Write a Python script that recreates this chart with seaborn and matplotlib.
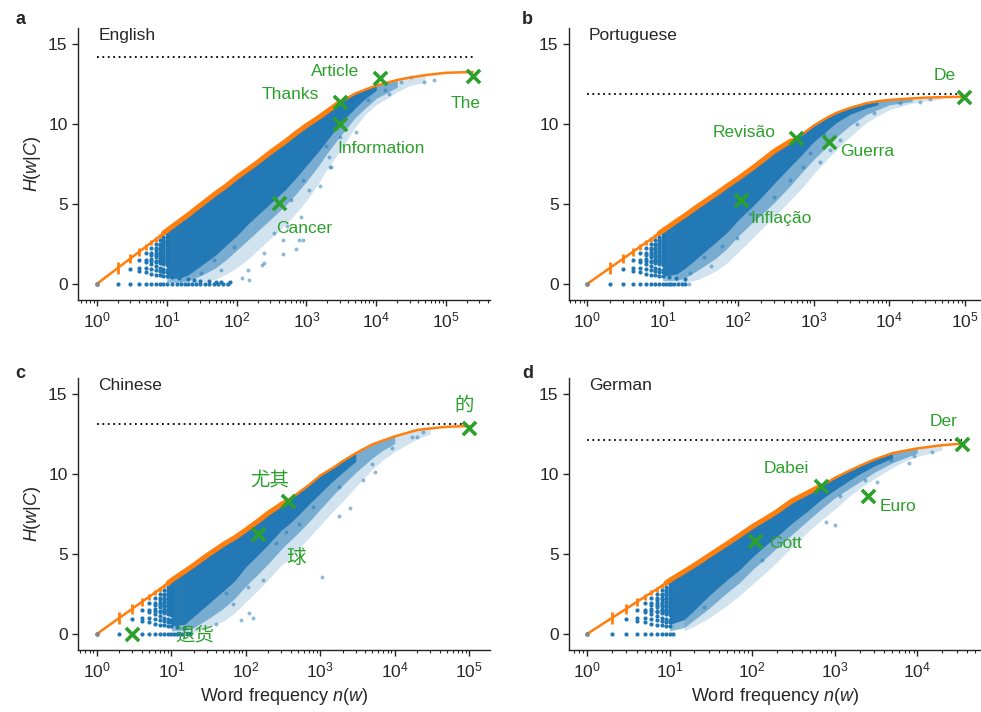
import numpy as np
import matplotlib
matplotlib.use("Agg")
import matplotlib.pyplot as plt
import seaborn as sns

sns.set_style("ticks")
plt.rcParams["font.family"] = ["Liberation Sans", "Noto Sans CJK SC", "DejaVu Sans"]
plt.rcParams["mathtext.fontset"] = "custom"
plt.rcParams["mathtext.rm"] = "Liberation Sans"
plt.rcParams["mathtext.it"] = "Liberation Sans:italic"

BLUE = "#1f77b4"
ORANGE = "#ff7f0e"
GREEN = "#2ca02c"
nan = np.nan

# ---- shared low-frequency lattice (n = 3..10, discrete entropy levels) ----
lat_cols = [3, 4, 5, 6, 7, 8, 9, 10]
lat_levels = [
    [0.92],
    [0.81, 1.0, 1.5],
    [0.72, 0.97, 1.37, 1.52, 1.92],
    [0.65, 0.92, 1.25, 1.46, 1.58, 1.79, 1.92, 2.25],
    [0.59, 0.86, 1.15, 1.38, 1.45, 1.66, 1.84, 1.95, 2.13, 2.24, 2.52],
    [0.54, 0.81, 1.0, 1.3, 1.41, 1.5, 1.56, 1.75, 1.81, 1.91, 2.0, 2.16, 2.25, 2.41, 2.5, 2.75],
    [0.5, 0.76, 0.92, 1.22, 1.35, 1.45, 1.53, 1.66, 1.75, 1.84, 1.98, 2.06, 2.2, 2.28, 2.42, 2.53, 2.64, 2.73, 2.95],
    [0.47, 0.72, 0.88, 1.16, 1.3, 1.36, 1.49, 1.57, 1.69, 1.76, 1.85, 1.96, 2.05, 2.16, 2.25, 2.35, 2.45, 2.55, 2.65, 2.75, 2.85, 2.95, 3.1],
]
low_row_n = [12, 15, 20, 25, 30, 40, 50, 60, 80]
low_row_h = [0.41, 0.35, 0.29, 0.24, 0.21, 0.17, 0.14, 0.12, 0.1]

err_n = [2, 3, 4, 5, 6, 7, 8, 9, 10]
err_h = [1.0, 1.58, 2.0, 2.32, 2.58, 2.8, 3.0, 3.17, 3.32]
err_e = [0.37, 0.3, 0.25, 0.2, 0.17, 0.15, 0.12, 0.1, 0.08]

# ---- English ----
en_n = [1, 2, 3, 4, 5, 6, 7, 8, 9, 10, 15, 20, 30, 50, 70, 100, 150, 200, 300, 500, 700, 1000,
        1500, 2000, 3000, 5000, 7000, 10000, 20000, 30000, 50000, 100000, 240000]
en_h = [0, 1.0, 1.58, 2.0, 2.32, 2.58, 2.8, 3.0, 3.17, 3.33, 3.9, 4.3, 4.9, 5.65, 6.1, 6.65, 7.2, 7.6,
        8.2, 8.9, 9.4, 9.9, 10.4, 10.8, 11.35, 11.9, 12.15, 12.4, 12.75, 12.9, 13.05, 13.2, 13.25]
en_core = [nan] * 9 + [0.4, 0.35, 0.55, 1.1, 1.8, 2.4, 3.0, 3.8, 4.3, 5.0, 5.9, 6.6, 7.4,
                       8.3, 9.0, 10.0, 11.0, 11.6, 12.1, nan, nan, nan, nan, nan]
en_mid = [nan] * 9 + [0.1, 0.1, 0.2, 0.5, 1.0, 1.5, 2.1, 2.8, 3.3, 4.0, 4.9, 5.6, 6.4,
                      7.4, 8.2, 9.2, 10.4, 11.0, 11.6, 12.3, nan, nan, nan, nan]
en_fr = [nan] * 10 + [0.05, 0.05, 0.1, 0.3, 0.6, 1.0, 1.6, 2.1, 2.8, 3.7, 4.4, 5.2,
                      6.3, 7.2, 8.3, 9.8, 10.6, 11.2, 12.0, 12.4, 12.6, nan, nan]
en_dot_n = [457, 234, 151, 794, 74, 2090, 2190, 4370, 22400, 49000, 67600, 13200, 1580,
            830, 600, 178, 347, 91, 48, 31, 1100, 6000, 7600, 31600, 5130, 2240, 890, 480, 457,
            890, 145, 245, 245, 1900, 3000, 120, 60, 520, 15000, 700]
en_dot_h = [1.9, 1.19, 0.25, 2.75, 0.0, 7.96, 7.3, 10.9, 12.65, 12.65, 12.75, 12.1, 6.1,
            4.2, 5.25, 4.4, 3.2, 2.3, 1.5, 0.67, 5.9, 11.7, 11.5, 12.95, 9.5, 7.33, 6.5, 6.0, 2.75,
            2.75, 0.88, 1.94, 1.3, 8.6, 9.2, 0.4, 0.9, 3.6, 11.9, 2.2]
en_zero_n = [2, 3, 4, 5, 6, 7, 8, 9, 10, 12, 14, 16, 18, 20, 23, 26, 30, 35, 40, 47, 55, 65, 75]
en_words = ["The", "Article", "Thanks", "Information", "Cancer"]
en_word_n = [240000, 11500, 3000, 3000, 410]
en_word_h = [13.0, 12.85, 11.4, 10.0, 5.04]

# ---- Portuguese ----
pt_n = [1, 2, 3, 4, 5, 6, 7, 8, 9, 10, 15, 20, 30, 50, 70, 100, 150, 200, 300, 500, 700, 1000,
        1500, 2000, 3000, 5000, 7000, 10000, 20000, 30000, 50000, 96000]
pt_h = [0, 1.0, 1.58, 2.0, 2.32, 2.58, 2.8, 3.0, 3.17, 3.33, 3.9, 4.3, 4.9, 5.6, 6.1, 6.6, 7.2, 7.65,
        8.3, 8.95, 9.35, 9.9, 10.4, 10.7, 11.0, 11.3, 11.42, 11.5, 11.6, 11.65, 11.68, 11.7]
pt_core = [nan] * 9 + [0.5, 0.6, 1.0, 1.7, 2.6, 3.2, 4.0, 4.8, 5.4, 6.3, 7.4, 8.1, 8.9,
                       9.6, 10.1, 10.6, 11.0, 11.2, nan, nan, nan, nan, nan]
pt_mid = [nan] * 9 + [0.2, 0.2, 0.4, 0.9, 1.6, 2.2, 3.0, 3.8, 4.3, 5.1, 6.2, 7.0, 7.8,
                      8.6, 9.2, 9.9, 10.6, 10.9, 11.2, 11.4, nan, nan, nan]
pt_fr = [nan] * 10 + [0.05, 0.1, 0.3, 0.8, 1.3, 2.0, 2.8, 3.4, 4.2, 5.3, 6.0, 6.9,
                      7.8, 8.4, 9.2, 10.1, 10.5, 10.9, 11.3, 11.45, 11.55, nan]
pt_dot_n = [95, 35, 43, 22, 295, 145, 890, 1350, 1660, 2240, 6170, 13800, 34700, 3720, 57, 490,
            720, 23, 1200, 60, 25000]
pt_dot_h = [2.85, 1.7, 1.1, 0.0, 5.45, 4.4, 8.2, 9.4, 8.4, 9.0, 10.7, 11.3, 11.55, 10.0, 3.17, 6.5,
            7.33, 0.67, 7.6, 2.4, 11.4]
pt_zero_n = [2, 3, 4, 5, 6, 7, 8, 9, 10, 11, 12, 13, 14, 16, 18, 20]
pt_words = ["De", "Revisão", "Guerra", "Inflação"]
pt_word_n = [96000, 585, 1590, 110]
pt_word_h = [11.67, 9.1, 8.9, 5.25]

# ---- Chinese ----
zh_n = [1, 2, 3, 4, 5, 6, 7, 8, 9, 10, 15, 20, 30, 50, 70, 100, 150, 200, 300, 365, 500, 700,
        1000, 1500, 2000, 3000, 5000, 7000, 10000, 20000, 30000, 50000, 100000]
zh_h = [0, 1.0, 1.58, 2.0, 2.32, 2.58, 2.8, 3.0, 3.17, 3.35, 3.9, 4.3, 4.9, 5.6, 6.0, 6.5, 7.1, 7.55,
        8.1, 8.33, 8.8, 9.3, 9.9, 10.4, 10.8, 11.3, 11.85, 12.1, 12.35, 12.75, 12.85, 12.95, 13.0]
zh_core = [nan] * 9 + [0.5, 0.6, 1.1, 1.8, 2.7, 3.3, 4.2, 5.0, 5.6, 6.5, 6.8, 7.4, 8.1,
                       8.8, 9.6, 10.1, 10.8, nan, nan, nan, nan, nan, nan, nan]
zh_mid = [nan] * 9 + [0.2, 0.2, 0.4, 0.9, 1.6, 2.2, 3.0, 3.8, 4.4, 5.3, 5.7, 6.3, 7.0,
                      7.8, 8.7, 9.3, 10.1, 11.0, 11.5, 11.9, nan, nan, nan, nan]
zh_fr = [nan] * 10 + [0.05, 0.1, 0.4, 0.8, 1.3, 2.0, 2.8, 3.4, 4.3, 4.6, 5.3, 6.0,
                      6.8, 7.7, 8.3, 9.2, 10.3, 10.9, 11.4, 12.2, 12.5, nan, nan]
zh_dot_n = [112, 126, 87, 1070, 1780, 2510, 5010, 5500, 3800, 9120, 17000, 20000, 257, 347, 68, 55,
            107, 170, 525, 794, 2690, 1780, 40, 24000]
zh_dot_h = [1.3, 1.0, 0.88, 3.58, 7.4, 7.85, 10.6, 10.15, 9.6, 11.6, 12.3, 12.3, 5.67, 6.4, 1.9, 2.54,
            2.96, 3.38, 6.9, 7.96, 11.1, 9.2, 0.6, 12.6]
zh_zero_n = [2, 4, 5, 6, 7, 8, 9, 10, 11, 12, 13, 14, 16, 18]
zh_words = ["的", "尤其", "球", "退货"]
zh_word_n = [100000, 365, 145, 3]
zh_word_h = [12.9, 8.33, 6.25, 0.0]

# ---- German ----
de_n = [1, 2, 3, 4, 5, 6, 7, 8, 9, 10, 15, 20, 30, 50, 70, 100, 150, 200, 300, 500, 680, 1000,
        1500, 2000, 3000, 5000, 7000, 10000, 20000, 35000]
de_h = [0, 1.0, 1.58, 2.0, 2.32, 2.58, 2.8, 3.0, 3.17, 3.35, 3.9, 4.3, 4.9, 5.65, 6.15, 6.7, 7.25,
        7.65, 8.3, 8.9, 9.25, 9.75, 10.2, 10.5, 10.9, 11.3, 11.45, 11.6, 11.8, 11.9]
de_core = [nan] * 9 + [0.6, 0.9, 1.5, 2.4, 3.4, 4.0, 4.8, 5.6, 6.1, 6.9, 7.8, 8.4, 9.0,
                       9.6, 10.0, 10.5, 11.0, nan, nan, nan, nan]
de_mid = [nan] * 9 + [0.2, 0.4, 0.9, 1.6, 2.6, 3.2, 4.0, 4.8, 5.4, 6.2, 7.2, 7.8, 8.5,
                      9.1, 9.5, 10.1, 10.7, 11.0, 11.3, nan, nan]
de_fr = [nan] * 10 + [0.2, 0.5, 1.0, 1.8, 2.4, 3.1, 3.9, 4.5, 5.4, 6.5, 7.1, 7.8,
                      8.6, 9.1, 9.7, 10.4, 10.8, 11.1, 11.5, nan]
de_dot_n = [780, 1000, 2340, 3240, 8000, 9100, 50, 26, 16, 11, 68, 190, 460, 1170, 4800, 130, 15000]
de_dot_h = [7.0, 6.8, 9.6, 9.5, 10.7, 11.1, 4.2, 1.7, 1.7, 1.0, 5.25, 6.5, 7.96, 8.6, 10.9, 4.6, 11.4]
de_zero_n = [2, 3, 4, 5, 6, 7, 8, 9, 10, 11]
de_words = ["Der", "Dabei", "Euro", "Gott"]
de_word_n = [35000, 680, 2500, 107]
de_word_h = [11.9, 9.25, 8.65, 5.83]

panels = [
    dict(letter="a", lang="English", curve=(en_n, en_h), env=(en_core, en_mid, en_fr),
         dots=(en_dot_n, en_dot_h), zero=en_zero_n,
         words=(en_words, en_word_n, en_word_h), hmax=14.2, nmax=240000, band=3000,
         offs=[(-5, -20, "center"), (-33, 5, "center"), (-15, 5, "right"), (-2, -17.5, "left"), (-2.5, -18, "left")],
         rect=[0.0795, 0.5787, 0.420, 0.382], xlim=(0.537, 426000), lowrow=9, wfs=12.5),
    dict(letter="b", lang="Portuguese", curve=(pt_n, pt_h), env=(pt_core, pt_mid, pt_fr),
         dots=(pt_dot_n, pt_dot_h), zero=pt_zero_n,
         words=(pt_words, pt_word_n, pt_word_h), hmax=11.85, nmax=96000, band=600,
         offs=[(-14, 16, "center"), (-15, 4.3, "right"), (8, -7.2, "left"), (6.5, -13.2, "left")],
         rect=[0.580, 0.5787, 0.419, 0.382], xlim=(0.575, 158000), lowrow=3, wfs=12.5),
    dict(letter="c", lang="Chinese", curve=(zh_n, zh_h), env=(zh_core, zh_mid, zh_fr),
         dots=(zh_dot_n, zh_dot_h), zero=zh_zero_n,
         words=(zh_words, zh_word_n, zh_word_h), hmax=13.1, nmax=100000, band=365,
         offs=[(-3.6, 15.4, "center"), (-12.7, 13.7, "center"), (27.6, -17.5, "center"), (30.5, -1.2, "left")],
         rect=[0.0795, 0.0871, 0.420, 0.382], xlim=(0.558, 190000), lowrow=2, wfs=14),
    dict(letter="d", lang="German", curve=(de_n, de_h), env=(de_core, de_mid, de_fr),
         dots=(de_dot_n, de_dot_h), zero=de_zero_n,
         words=(de_words, de_word_n, de_word_h), hmax=12.1, nmax=35000, band=700,
         offs=[(-13.7, 16, "center"), (-25, 12.7, "center"), (9, -8, "left"), (10.8, -1.9, "left")],
         rect=[0.580, 0.0871, 0.419, 0.382], xlim=(0.605, 57500), lowrow=0, wfs=12.5),
]

fig = plt.figure(figsize=(9.81, 7.12), dpi=100)

for i, p in enumerate(panels):
    ax = fig.add_axes(p["rect"])
    ax.set_xscale("log")

    xn, xh = np.array(p["curve"][0], float), np.array(p["curve"][1], float)
    core, mid, fr = [np.array(a, float) for a in p["env"]]
    # cloud: faint outer fringe, medium band, dense core (all hugging the curve)
    ax.fill_between(xn, fr, xh, color=BLUE, alpha=0.2, lw=0, zorder=1)
    ax.fill_between(xn, mid, xh, color=BLUE, alpha=0.5, lw=0, zorder=1)
    ax.fill_between(xn, core, xh, color=BLUE, alpha=0.95, lw=0, zorder=2)

    # lattice at small n
    lx, ly = [], []
    for n, lv in zip(lat_cols, lat_levels):
        lx += [n] * len(lv)
        ly += lv
    lx += p["zero"]
    ly += [0.0] * len(p["zero"])
    lx += low_row_n[:p["lowrow"]]
    ly += low_row_h[:p["lowrow"]]
    sns.scatterplot(x=lx, y=ly, color=BLUE, s=9, linewidth=0, ax=ax, zorder=3)

    dn, dh = p["dots"]
    sns.scatterplot(x=dn, y=dh, color=BLUE, s=8, alpha=0.5, linewidth=0, ax=ax, zorder=3)

    # null-model curve
    sns.lineplot(x=xn, y=xh, color=ORANGE, lw=1.8, sort=False, estimator=None, ax=ax, zorder=4)
    m = (xn >= 9) & (xn <= p["band"])
    sns.lineplot(x=xn[m], y=xh[m], color=ORANGE, lw=3.6, sort=False, estimator=None, ax=ax, zorder=4)
    ax.errorbar(err_n, err_h, yerr=err_e, fmt="none", ecolor=ORANGE, elinewidth=2, capsize=0, zorder=4)
    ax.plot([1], [0], "o", color="#888888", ms=2.5, zorder=5)

    ax.hlines(p["hmax"], 1, p["nmax"], colors="k", linestyles=(0, (1, 2)), lw=1.3, zorder=4)

    words, wn, wh = p["words"]
    sns.scatterplot(x=wn, y=wh, marker="x", color=GREEN, s=90, linewidth=2.6, ax=ax, zorder=6)
    for w, n, h, (dx, dy, ha) in zip(words, wn, wh, p["offs"]):
        ax.annotate(w, (n, h), xytext=(dx, dy), textcoords="offset points", ha=ha, va="center",
                    color=GREEN, fontsize=p["wfs"], zorder=7)

    ax.set_xlim(*p["xlim"])
    ax.set_ylim(-1, 16)
    ax.set_yticks([0, 5, 10, 15])
    ax.tick_params(labelsize=12.5, length=4, width=1)
    ax.tick_params(which="minor", length=2.5, width=0.8)
    sns.despine(ax=ax)
    for s in ["left", "bottom"]:
        ax.spines[s].set_linewidth(1)
        ax.spines[s].set_color("#222222")

    ax.text(0.049, 0.971, p["lang"], transform=ax.transAxes, fontsize=12.5, va="center", ha="left")
    fx = 0.0153 if i % 2 == 0 else 0.532
    fy = 0.972 if i < 2 else 0.476
    fig.text(fx, fy, p["letter"], fontsize=13, fontweight="bold", va="center", ha="left")

    if i % 2 == 0:
        ax.set_ylabel("$H$($w$|$C$)", fontsize=13)
    else:
        ax.set_ylabel("")
    if i >= 2:
        ax.set_xlabel("Word frequency $n$($w$)", fontsize=13)
    else:
        ax.set_xlabel("")

fig.savefig("out.png", dpi=100)
